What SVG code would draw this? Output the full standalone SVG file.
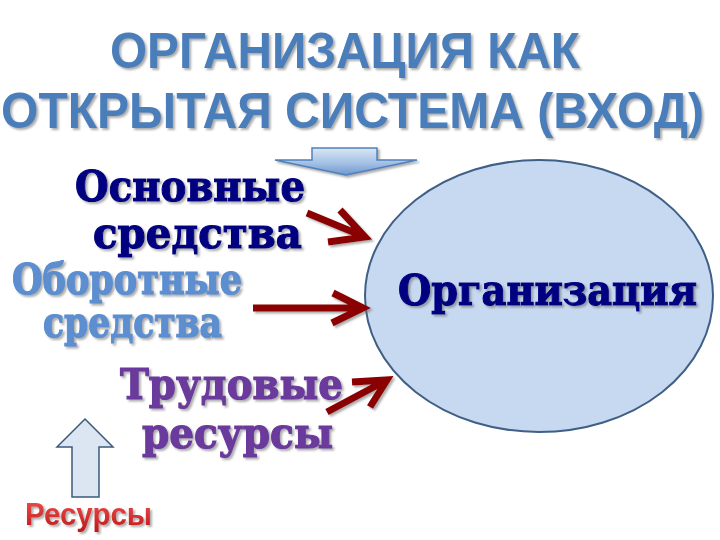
<svg xmlns="http://www.w3.org/2000/svg" width="720" height="540" viewBox="0 0 720 540">
  <defs>
    <filter id="sh" x="-10%" y="-20%" width="130%" height="150%">
      <feDropShadow dx="2" dy="2" stdDeviation="1" flood-color="#666" flood-opacity="0.55"/>
    </filter>
    <linearGradient id="blueArrow" x1="0" y1="0" x2="0" y2="1">
      <stop offset="0" stop-color="#dbe7f5"/>
      <stop offset="0.6" stop-color="#9fbde3"/>
      <stop offset="1" stop-color="#6f98cf"/>
    </linearGradient>
    <linearGradient id="redText" x1="0" y1="0" x2="0" y2="1">
      <stop offset="0" stop-color="#f05050"/>
      <stop offset="1" stop-color="#c01818"/>
    </linearGradient>
  </defs>
  <style>
    .title { font-family: "Liberation Sans", Arial, sans-serif; font-weight: bold; font-size: 50px; fill: #4a7ebb; }
    .serif { font-family: "DejaVu Serif", "Liberation Serif", serif; font-weight: bold; font-size: 43px; stroke-width: 1.2; }
    .navy { fill: #000080; stroke: #000080; }
    .lblue { fill: #5b8ed0; stroke: #5b8ed0; }
    .purple { fill: #6b3a9c; stroke: #6b3a9c; }
    .red { fill: none; stroke: #8b0000; stroke-width: 7; stroke-linejoin: miter; stroke-linecap: butt; }
  </style>
  <rect width="720" height="540" fill="#ffffff"/>

  <g id="title" filter="url(#sh)">
    <text class="title" x="110" y="68" textLength="470" lengthAdjust="spacingAndGlyphs">ОРГАНИЗАЦИЯ КАК</text>
    <text class="title" x="1" y="128" textLength="703" lengthAdjust="spacingAndGlyphs">ОТКРЫТАЯ СИСТЕМА (ВХОД)</text>
  </g>

  <g id="down-arrow" filter="url(#sh)">
    <path d="M312,148 L377,148 L377,160 L417,160 L346,175 L275,160 L312,160 Z" fill="url(#blueArrow)" stroke="#4f81bd" stroke-width="1.5"/>
  </g>

  <g id="osnovnye" filter="url(#sh)">
    <text class="serif navy" x="75" y="201" textLength="230" lengthAdjust="spacingAndGlyphs">Основные</text>
    <text class="serif navy" x="93" y="248" textLength="209" lengthAdjust="spacingAndGlyphs">средства</text>
  </g>

  <g id="oborotnye" filter="url(#sh)">
    <text class="serif lblue" x="12" y="294" textLength="230" lengthAdjust="spacingAndGlyphs">Оборотные</text>
    <text class="serif lblue" x="43" y="337" textLength="179" lengthAdjust="spacingAndGlyphs">средства</text>
  </g>

  <g id="trudovye" filter="url(#sh)">
    <text class="serif purple" x="120" y="399" textLength="223" lengthAdjust="spacingAndGlyphs">Трудовые</text>
    <text class="serif purple" x="142" y="448" textLength="191" lengthAdjust="spacingAndGlyphs">ресурсы</text>
  </g>

  <g id="organization">
    <ellipse cx="539" cy="296" rx="174" ry="136" fill="#c6d9f1" stroke="#3f5f86" stroke-width="2"/>
    <text class="serif navy" x="398" y="305" font-size="39" filter="url(#sh)" textLength="299" lengthAdjust="spacingAndGlyphs">Организация</text>
  </g>

  <g id="resursy">
    <path d="M85,419 L113,447 L99,447 L99,497 L72,497 L72,447 L57,447 Z" fill="#dce6f2" stroke="#3b5a7a" stroke-width="1.5"/>
    <text x="25" y="525" font-family="Liberation Sans, Arial, sans-serif" font-weight="bold" font-size="31" fill="url(#redText)" filter="url(#sh)" textLength="127" lengthAdjust="spacingAndGlyphs">Ресурсы</text>
  </g>

  <g id="connectors" filter="url(#sh)">
    <path class="red" d="M307,213 L365,237 M340,210 L365,237 L328,242"/>
    <path class="red" d="M253,308 L363,308 M333,293 L363,308 L332,323"/>
    <path class="red" d="M327,412 L387,380 M352,382 L387,380 L370,407"/>
  </g>
</svg>
